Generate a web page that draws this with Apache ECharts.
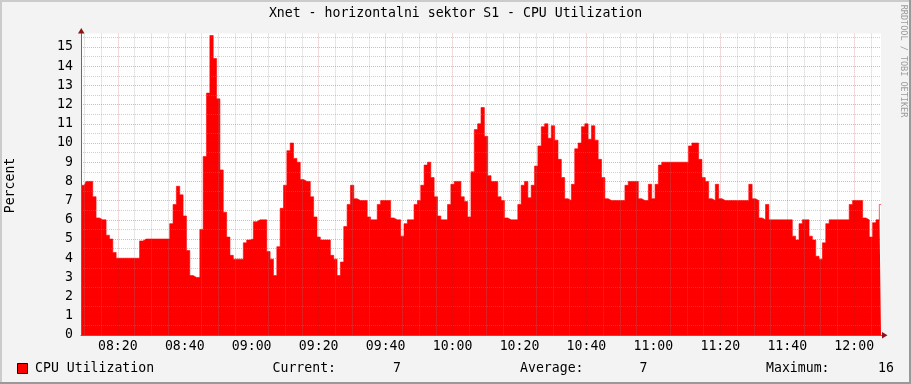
<!DOCTYPE html>
<html><head><meta charset="utf-8">
<script src="https://cdn.jsdelivr.net/npm/echarts@6/dist/echarts.min.js"></script>
<style>html,body{margin:0;padding:0;background:#f3f3f3}#c{width:911px;height:384px}</style>
</head><body><div id="c"></div>
<script>
// ---- data ----
const titleText = 'Xnet - horizontalni sektor S1 - CPU Utilization';
const yAxisTitle = 'Percent';
const seriesName = 'CPU Utilization';
const watermark = 'RRDTOOL / TOBI OETIKER';
const startMinute = 489; // 08:09, one sample per minute
const cpuValues = [
  7.8,7.8,8.0,8.0,7.2,6.1,6.0,6.0,5.2,5.0,
  4.3,4.0,4.0,4.0,4.0,4.0,4.0,4.0,4.9,5.0,
  5.0,5.0,5.0,5.0,5.0,5.0,5.0,5.8,6.8,7.75,
  7.3,6.2,4.4,3.1,3.0,3.0,5.5,9.3,12.6,15.6,
  14.4,12.3,8.6,6.4,5.1,4.15,3.95,3.95,3.95,4.8,
  4.95,5.0,5.9,6.0,6.0,6.0,4.35,3.95,3.1,4.6,
  6.6,7.8,9.6,10.0,9.2,9.0,8.1,8.0,8.0,7.2,
  6.15,5.1,4.95,4.95,4.95,4.15,3.95,3.1,3.8,5.65,
  6.8,7.8,7.1,7.0,7.0,7.0,6.15,6.0,6.0,6.8,
  7.0,7.0,7.0,6.1,6.0,6.0,5.15,5.8,6.0,6.0,
  6.8,7.0,7.8,8.85,9.0,8.2,7.2,6.2,6.0,6.0,
  6.8,7.85,8.0,8.0,7.2,6.95,6.15,8.5,10.7,11.0,
  11.85,10.35,8.3,8.0,8.0,7.2,7.0,6.1,6.0,6.0,
  6.0,6.8,7.8,8.0,7.15,7.8,8.8,9.85,10.85,11.0,
  10.25,10.9,10.15,9.15,8.2,7.1,7.0,7.85,9.7,10.0,
  10.85,11.0,10.2,10.9,10.15,9.15,8.2,7.1,7.0,7.0,
  7.0,7.0,7.0,7.8,8.0,8.0,8.0,7.1,7.0,7.0,
  7.85,7.1,7.85,8.85,9.0,9.0,9.0,9.0,9.0,9.0,
  9.0,9.0,9.85,10.0,10.0,9.15,8.2,8.0,7.1,7.0,
  7.85,7.1,7.0,7.0,7.0,7.0,7.0,7.0,7.0,7.0,
  7.85,7.1,7.0,6.1,6.0,6.8,6.0,6.0,6.0,6.0,
  6.0,6.0,6.0,5.15,4.95,5.8,6.0,6.0,5.15,4.95,
  4.1,3.95,4.8,5.8,6.0,6.0,6.0,6.0,6.0,6.0,
  6.8,7.0,7.0,7.0,6.1,6.0,5.1,5.85,6.0,6.8
];
const xTickLabels = ['08:20','08:40','09:00','09:20','09:40','10:00','10:20','10:40','11:00','11:20','11:40','12:00'];
const yMax = 15.7;

// ---- derived ----
const pad = n => (n < 10 ? '0' : '') + n;
const categories = cpuValues.map((_, i) => { const m = startMinute + i; return pad(Math.floor(m / 60)) + ':' + pad(m % 60); });
const minuteOf = c => parseInt(c.slice(0, 2), 10) * 60 + parseInt(c.slice(3), 10);
const curVal = cpuValues[cpuValues.length - 1];
const avgVal = cpuValues.reduce((a, b) => a + b, 0) / cpuValues.length;
const maxVal = Math.max(...cpuValues);

const FONT = '"DejaVu Sans Mono", monospace';
const FS = 13.2;
const MINOR = 'rgba(140,140,140,0.42)';
const MAJOR = 'rgba(150,30,30,0.32)';
const AXIS = '#6a6a6a';
const ARROW = '#8b1414';

const gLeft = 81, gTop = 33.6, gW = 800, gH = 301.4, gBottom = gTop + gH;

const txt = (text, x, y, align, extra, font, fill) => Object.assign({
  type: 'text', x, y, silent: true,
  style: { text, font: font || (FS + 'px ' + FONT), fill: fill || '#000', align: align || 'left', verticalAlign: 'middle' }
}, extra || {});

const chart = echarts.init(document.getElementById('c'), null, { renderer: 'canvas' });
chart.setOption({
  animation: false,
  backgroundColor: '#f3f3f3',
  textStyle: { fontFamily: FONT },
  grid: { left: gLeft, top: gTop, width: gW, height: gH, show: true, backgroundColor: '#ffffff', borderWidth: 0 },
  xAxis: [
    {
      type: 'category', data: categories, boundaryGap: false, z: 5,
      axisLine: { show: true, lineStyle: { color: AXIS, width: 1 } },
      axisTick: { show: false },
      axisLabel: { interval: (i, v) => xTickLabels.includes(v), color: '#000', fontFamily: FONT, fontSize: FS, margin: 5 },
      splitLine: { show: true, interval: (i, v) => { const m = minuteOf(v); return m % 5 === 0 && m % 20 !== 0; },
        lineStyle: { color: MINOR, type: [1, 1], width: 1 } }
    },
    {
      type: 'category', data: categories, boundaryGap: false, z: 5, position: 'bottom',
      axisLine: { show: false }, axisTick: { show: false }, axisLabel: { show: false },
      splitLine: { show: true, interval: (i, v) => xTickLabels.includes(v),
        lineStyle: { color: MAJOR, type: [1, 1], width: 1 } }
    }
  ],
  yAxis: {
    type: 'value', min: 0, max: yMax, interval: 0.5, z: 5,
    axisLine: { show: true, lineStyle: { color: AXIS, width: 1 } },
    axisTick: { show: false },
    axisLabel: { formatter: v => (Math.abs(v - Math.round(v)) < 1e-9 && v <= 15 ? String(Math.round(v)) : ''),
      color: '#000', fontFamily: FONT, fontSize: FS, margin: 8, showMaxLabel: false },
    splitLine: { show: true, showMaxLine: false, lineStyle: { color: [MAJOR, MINOR], type: [1, 1], width: 1 } }
  },
  series: [{
    type: 'line', name: seriesName, data: cpuValues, xAxisIndex: 0, symbol: 'none', z: 2, step: 'middle',
    lineStyle: { width: 0.6, color: '#ff0000' },
    areaStyle: { color: '#ff0000', opacity: 1 }
  }],
  graphic: [
    // frame
    { type: 'rect', silent: true, shape: { x: 0, y: 0, width: 911, height: 2 }, style: { fill: '#cbcbcb' } },
    { type: 'rect', silent: true, shape: { x: 0, y: 0, width: 2, height: 384 }, style: { fill: '#cbcbcb' } },
    { type: 'rect', silent: true, shape: { x: 0, y: 382, width: 911, height: 2 }, style: { fill: '#999999' } },
    { type: 'rect', silent: true, shape: { x: 909, y: 0, width: 2, height: 384 }, style: { fill: '#999999' } },
    // axis extensions and arrows
    { type: 'line', silent: true, z: 10, shape: { x1: gLeft + 0.5, y1: gTop, x2: gLeft + 0.5, y2: 30 }, style: { stroke: AXIS, lineWidth: 1 } },
    { type: 'line', silent: true, z: 10, shape: { x1: gLeft + gW, y1: gBottom + 0.5, x2: 884, y2: gBottom + 0.5 }, style: { stroke: AXIS, lineWidth: 1 } },
    { type: 'polygon', silent: true, z: 11, shape: { points: [[78, 33.5], [84.5, 33.5], [81.3, 28]] }, style: { fill: ARROW } },
    { type: 'polygon', silent: true, z: 11, shape: { points: [[882, 332], [882, 338.5], [887.5, 335.3]] }, style: { fill: ARROW } },
    // texts
    txt(titleText, 455.5, 14, 'center'),
    txt(yAxisTitle, 11, 185.5, 'center', { rotation: Math.PI / 2 }),
    txt(watermark, 903, 61, 'center', { rotation: -Math.PI / 2 }, '8.5px ' + FONT, '#9a9a9a'),
    // legend
    { type: 'rect', silent: true, shape: { x: 17.5, y: 363.5, width: 10, height: 10 }, style: { fill: '#ff0000', stroke: '#000', lineWidth: 1 } },
    txt(seriesName, 35, 368.5, 'left'),
    txt('Current:', 272.5, 368.5, 'left'),
    txt(curVal.toFixed(0), 401, 368.5, 'right'),
    txt('Average:', 520, 368.5, 'left'),
    txt(avgVal.toFixed(0), 647.5, 368.5, 'right'),
    txt('Maximum:', 766, 368.5, 'left'),
    txt(maxVal.toFixed(0), 894, 368.5, 'right')
  ]
});
</script>
</body></html>
